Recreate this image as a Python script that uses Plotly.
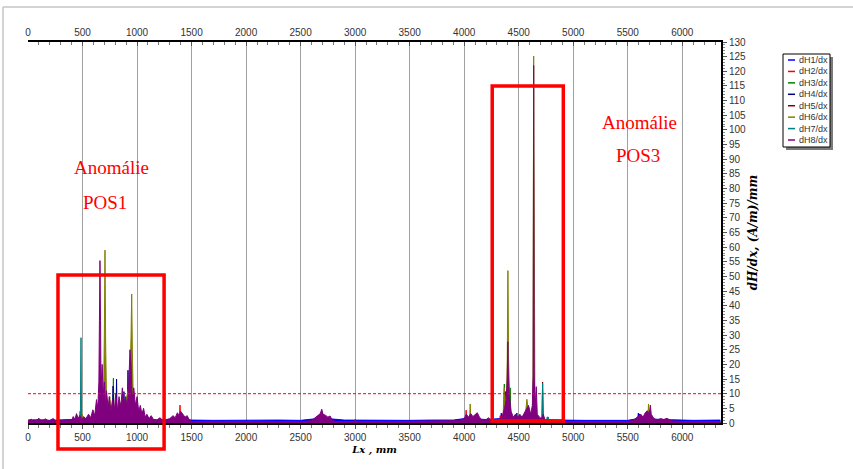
import plotly.graph_objects as go

# ---------------- data (x in mm, dH/dx in (A/m)/mm) ----------------
SERIES_NAMES = ["dH1/dx", "dH2/dx", "dH3/dx", "dH4/dx", "dH5/dx", "dH6/dx", "dH7/dx", "dH8/dx"]
SERIES_COLORS = ["#0000ff", "#ff0000", "#008000", "#000080", "#800000", "#808000", "#008080", "#800080"]

DH1 = [(0, 1.0), (100, 1.1), (200, 0.9), (300, 1.0), (400, 1.2), (500, 1.5), (600, 1.8), (800, 2.0),
       (1000, 1.6), (1200, 1.0), (1400, 1.5), (1500, 1.0), (1700, 0.9), (1900, 1.0), (2100, 0.9),
       (2300, 1.0), (2500, 0.9), (2650, 1.5), (2700, 2.0), (2750, 1.5), (2900, 1.0), (3100, 0.9),
       (3300, 1.0), (3500, 0.9), (3700, 1.0), (3900, 1.0), (4000, 1.5), (4100, 1.4), (4200, 1.2),
       (4335, 1.5), (4340, 3.4), (4345, 1.5), (4500, 1.3), (4700, 1.2), (4900, 1.0), (5100, 0.9),
       (5300, 1.0), (5500, 0.9), (5592, 1.5), (5597, 3.4), (5602, 1.5), (5700, 1.3), (5900, 1.1),
       (6100, 0.9), (6350, 1.0)]

DH2 = [(0, 0.2), (1388, 0.2), (1394, 6.1), (1400, 0.2), (2685, 0.2), (2690, 3.0), (2695, 0.2),
       (4012, 0.2), (4018, 4.4), (4024, 0.2), (4325, 0.2), (4330, 2.5), (4335, 0.2), (6350, 0.2)]

DH3 = [(0, 0.2), (472, 0.2), (478, 4.0), (484, 0.2), (777, 0.2), (783, 15.3), (789, 0.2),
       (1380, 0.2), (1385, 2.5), (1390, 0.2), (2693, 0.2), (2698, 2.0), (2703, 0.2), (4362, 0.2),
       (4368, 13.3), (4374, 0.2), (4416, 0.2), (4422, 12.0), (4428, 0.2), (4764, 0.2), (4770, 2.0),
       (4776, 0.2), (5703, 0.2), (5708, 3.0), (5713, 0.2), (6350, 0.2)]

DH4 = [(0, 0.2), (774, 0.2), (780, 12.6), (786, 0.2), (806, 0.2), (812, 15.0), (818, 0.2),
       (874, 0.2), (880, 10.7), (886, 0.2), (911, 0.2), (917, 18.0), (923, 0.2), (2694, 0.2),
       (2700, 3.5), (2706, 0.2), (4374, 0.2), (4380, 10.7), (4386, 0.2), (4477, 0.2), (4483, 3.4),
       (4489, 0.2), (5600, 0.2), (5606, 3.1), (5612, 0.2), (6350, 0.2)]

DH5 = [(0, 0.2), (1044, 0.2), (1050, 4.0), (1056, 0.2), (4345, 0.2), (4350, 2.5), (4355, 0.2),
       (4713, 0.2), (4719, 14.0), (4725, 0.2), (6350, 0.2)]

DH6 = [(0, 0.2), (490, 0.2), (496, 3.0), (502, 0.2), (685, 0.2), (694, 12.0), (700, 30.0), (706, 59.0),
       (712, 28.0), (720, 8.0), (740, 5.0), (750, 9.0), (760, 4.0), (800, 6.0), (830, 3.0), (850, 7.0),
       (870, 3.0), (935, 14.0), (945, 30.0), (951, 44.0), (957, 25.0), (965, 8.0), (1000, 3.0),
       (1010, 0.2), (4049, 0.2), (4055, 6.5), (4061, 0.2), (4355, 0.2), (4362, 8.0), (4368, 12.0),
       (4374, 5.0), (4390, 12.0), (4395, 22.0), (4401, 52.0), (4407, 22.0), (4415, 6.0), (4422, 0.2),
       (4555, 0.2), (4565, 6.0), (4575, 8.1), (4585, 5.0), (4595, 0.2), (4625, 0.2), (4631, 17.0),
       (4637, 125.2), (4643, 17.0), (4649, 0.2), (5684, 0.2), (5690, 6.5), (5696, 0.2), (6350, 0.2)]

DH7 = [(0, 0.2), (480, 0.2), (483, 15.0), (486, 29.1), (489, 12.0), (492, 0.2), (4713, 0.2),
       (4716, 8.0), (4719, 13.5), (4722, 8.0), (4725, 0.2), (4755, 0.2), (4760, 2.0), (4770, 2.0),
       (4775, 0.2), (6350, 0.2)]

DH8 = [(0, 0.8), (30, 1.3), (50, 0.6), (80, 1.0), (100, 1.6), (120, 0.7), (160, 1.4), (190, 0.7),
       (230, 1.5), (260, 0.6), (300, 0.9), (340, 0.7), (370, 1.2), (400, 1.0), (415, 2.2), (430, 1.2),
       (445, 3.2), (460, 1.5), (475, 2.6), (495, 1.0), (510, 2.2), (530, 1.4), (555, 3.0), (575, 1.8),
       (595, 4.5), (612, 2.5), (628, 8.0), (640, 5.0), (650, 14.0), (655, 40.0), (660, 55.4), (665, 35.0),
       (670, 12.0), (680, 20.0), (690, 9.0), (700, 14.0), (710, 6.0), (720, 11.0), (735, 5.0), (745, 9.0),
       (760, 4.0), (775, 8.0), (790, 3.5), (805, 10.0), (820, 4.0), (835, 9.0), (850, 5.0), (865, 12.0),
       (880, 6.0), (895, 9.0), (910, 5.0), (925, 14.0), (935, 25.0), (945, 20.0), (955, 8.0), (970, 12.0),
       (985, 6.0), (1000, 9.0), (1015, 4.0), (1030, 6.0), (1045, 3.0), (1060, 5.0), (1075, 2.0),
       (1090, 3.0), (1110, 1.5), (1130, 2.5), (1150, 1.2), (1180, 1.0), (1210, 1.8), (1240, 0.8),
       (1270, 1.2), (1300, 1.5), (1330, 2.5), (1350, 1.8), (1370, 3.5), (1385, 2.5), (1400, 4.0),
       (1420, 3.0), (1440, 2.0), (1460, 2.5), (1480, 1.0), (1500, 0.5), (1600, 0.4), (1700, 0.6),
       (1750, 0.4), (1900, 0.5), (2100, 0.4), (2300, 0.5), (2500, 0.4), (2600, 0.8), (2630, 1.8),
       (2660, 2.5), (2680, 3.2), (2694, 4.7), (2705, 3.0), (2730, 2.6), (2750, 2.0), (2770, 2.4),
       (2790, 1.0), (2820, 0.5), (2990, 0.5), (3000, 1.2), (3010, 0.5), (3200, 0.4), (3400, 0.5),
       (3600, 0.4), (3800, 0.5), (3950, 0.8), (4000, 1.5), (4020, 3.0), (4040, 2.0), (4060, 3.2),
       (4080, 2.2), (4100, 3.0), (4120, 3.5), (4140, 2.0), (4160, 1.2), (4200, 1.0), (4220, 1.8),
       (4240, 1.2), (4260, 0.8), (4300, 1.0), (4330, 1.5), (4350, 2.5), (4370, 5.0), (4385, 8.0),
       (4395, 15.0), (4400, 27.7), (4405, 15.0), (4415, 9.0), (4430, 4.0), (4450, 2.0), (4470, 3.0),
       (4490, 2.0), (4510, 3.0), (4530, 2.0), (4550, 3.5), (4570, 4.5), (4590, 6.0), (4610, 3.0),
       (4625, 6.0), (4632, 16.0), (4637, 122.0), (4642, 16.0), (4650, 5.0), (4661, 12.4), (4670, 3.0),
       (4690, 2.0), (4710, 1.5), (4725, 3.0), (4740, 1.2), (4780, 0.8), (4850, 0.6), (5000, 0.5),
       (5200, 0.6), (5400, 0.5), (5500, 0.5), (5550, 0.9), (5580, 1.8), (5600, 2.5), (5620, 3.0),
       (5640, 2.0), (5660, 3.5), (5680, 4.2), (5697, 3.0), (5707, 6.1), (5715, 3.0), (5740, 1.5),
       (5770, 1.0), (5800, 1.5), (5830, 1.2), (5860, 1.6), (5900, 0.7), (6000, 0.5), (6200, 0.5),
       (6350, 0.5)]

SERIES_DATA = [DH1, DH2, DH3, DH4, DH5, DH6, DH7, DH8]

THRESHOLD = 10
X_RANGE = [0, 6355]
Y_RANGE = [0, 130]
ANOMALY_BOXES = [dict(x0=275, x1=1248, y0=-8.9, y1=50.5), dict(x0=4257, x1=4909, y0=0.7, y1=115)]
ANOMALY_LABELS = [("Anomálie", 762, 87.3), ("POS1", 706, 75.4), ("Anomálie", 5606, 102.7), ("POS3", 5597, 91.4)]

# ---------------- figure ----------------
fig = go.Figure()
for name, color, data in zip(SERIES_NAMES, SERIES_COLORS, SERIES_DATA):
    xs = [p[0] for p in data]
    ys = [p[1] for p in data]
    fig.add_trace(go.Scatter(x=xs, y=ys, mode="lines", name=name, showlegend=False,
                             line=dict(color=color, width=1), fill="tozeroy", fillcolor=color,
                             hoverinfo="skip"))

# dummy trace to activate the top axis
fig.add_trace(go.Scatter(x=[None], y=[None], xaxis="x2", yaxis="y", showlegend=False, hoverinfo="skip"))

# plot area in px: x 28..721, y 42..423
L, R, T, B = 28, 721, 42, 423
W, H = R - L, B - T


def px(xp):
    return (xp - L) / W


def py(yp):
    return (B - yp) / H


tick_font = dict(family="Liberation Sans, Arial", size=10, color="#333333")
x_title_font = dict(family="DejaVu Serif", size=10, color="#000000", weight="bold", style="italic")
y_title_font = dict(family="DejaVu Serif", size=12, color="#000000", weight="bold", style="italic")

fig.update_layout(
    width=853, height=469,
    margin=dict(l=L, r=853 - R, t=T, b=469 - B),
    paper_bgcolor="white", plot_bgcolor="white",
    showlegend=False,
    xaxis=dict(range=X_RANGE, tick0=0, dtick=500, showgrid=True, gridcolor="#a0a0a0", gridwidth=1.3,
               zeroline=False, showline=True, linecolor="black", linewidth=2,
               ticks="outside", ticklen=4, tickcolor="#555555",
               minor=dict(dtick=100, ticks="outside", ticklen=3, tickcolor="#777777", showgrid=False),
               tickfont=tick_font,
               title=dict(text="Lx , mm", font=x_title_font, standoff=4)),
    xaxis2=dict(range=X_RANGE, tick0=0, dtick=500, overlaying="x", side="top", matches="x",
                showgrid=False, zeroline=False, showline=True, linecolor="black", linewidth=2,
                ticks="inside", ticklen=4, tickcolor="#555555",
                minor=dict(dtick=100, ticks="inside", ticklen=3, tickcolor="#777777"),
                tickfont=tick_font),
    yaxis=dict(range=Y_RANGE, side="right", tick0=0, dtick=5, showgrid=False, zeroline=False,
               showline=True, linecolor="black", linewidth=2,
               ticks="outside", ticklen=4, tickcolor="#555555",
               minor=dict(dtick=1, ticks="outside", ticklen=2, tickcolor="#888888"),
               tickfont=tick_font,
               title=dict(text="dH/dx, (A/m)/mm", font=y_title_font, standoff=3)),
)

shapes = []
# threshold line
shapes.append(dict(type="line", xref="paper", yref="y", x0=0, x1=1, y0=THRESHOLD, y1=THRESHOLD,
                   line=dict(color="#ff0000", width=1, dash="3px,2px"), layer="above"))
# anomaly boxes
for bx in ANOMALY_BOXES:
    shapes.append(dict(type="rect", xref="x", yref="paper", x0=bx["x0"], x1=bx["x1"],
                       y0=bx["y0"] / Y_RANGE[1], y1=bx["y1"] / Y_RANGE[1],
                       line=dict(color="#ff0000", width=3.5), fillcolor="rgba(0,0,0,0)", layer="above"))
# outer frame (top and left)
shapes.append(dict(type="line", xref="paper", yref="paper", x0=px(3), x1=px(853), y0=py(7), y1=py(7),
                   line=dict(color="#c4c4c4", width=1.5)))
shapes.append(dict(type="line", xref="paper", yref="paper", x0=px(3), x1=px(3), y0=py(7), y1=py(469),
                   line=dict(color="#c4c4c4", width=1.5)))
# manual legend box with shadow
shapes.append(dict(type="rect", xref="paper", yref="paper", x0=px(786), x1=px(833), y0=py(150), y1=py(57),
                   line=dict(width=0), fillcolor="#7a7a7a"))
shapes.append(dict(type="rect", xref="paper", yref="paper", x0=px(783), x1=px(830), y0=py(147), y1=py(54),
                   line=dict(color="black", width=1), fillcolor="white"))

annotations = []
for i, (name, color) in enumerate(zip(SERIES_NAMES, SERIES_COLORS)):
    yy = 60 + i * 11.43
    shapes.append(dict(type="line", xref="paper", yref="paper", x0=px(788), x1=px(795), y0=py(yy), y1=py(yy),
                       line=dict(color=color, width=1.5)))
    annotations.append(dict(text=name, xref="paper", yref="paper", x=px(797), y=py(yy), xanchor="left",
                            yanchor="middle", showarrow=False,
                            font=dict(family="Liberation Sans, Arial", size=9, color="#333333")))

for text, x, y in ANOMALY_LABELS:
    annotations.append(dict(text=text, xref="x", yref="y", x=x, y=y, showarrow=False,
                            xanchor="center", yanchor="middle",
                            font=dict(family="Liberation Serif, Times New Roman", size=19, color="#ff0000")))

fig.update_layout(shapes=shapes, annotations=annotations)

fig.write_html("out.html")
